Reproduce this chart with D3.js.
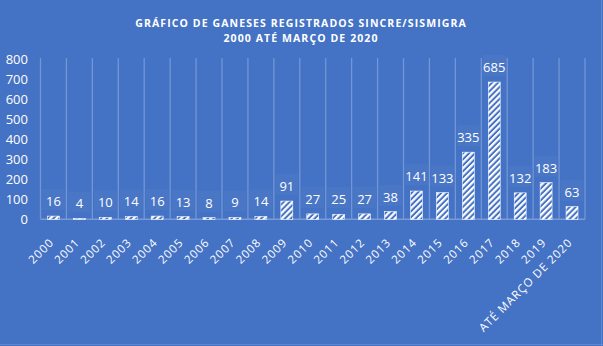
<!DOCTYPE html>
<html><head><meta charset="utf-8">
<script src="https://cdn.jsdelivr.net/npm/d3@7"></script>
<style>
html,body{margin:0;padding:0;background:#4472C4;}
svg{display:block;}
text{font-family:"Open Sans","Noto Sans",sans-serif;fill:#fff;}
</style></head>
<body>
<script>
const categories = ["2000","2001","2002","2003","2004","2005","2006","2007","2008","2009","2010","2011","2012","2013","2014","2015","2016","2017","2018","2019","ATÉ MARÇO DE 2020"];
const values = [16,4,10,14,16,13,8,9,14,91,27,25,27,38,141,133,335,685,132,183,63];
const yTicks = [0,100,200,300,400,500,600,700,800];
const titleLines = ["GRÁFICO DE GANESES REGISTRADOS SINCRE/SISMIGRA","2000 ATÉ MARÇO DE 2020"];

const W=603,H=346;
const svg=d3.select("body").append("svg").attr("width",W).attr("height",H);
svg.append("rect").attr("width",W).attr("height",H).attr("fill","#4472C4");
svg.append("line").attr("x1",601.5).attr("x2",601.5).attr("y1",0).attr("y2",H).attr("stroke","#5f86cc").attr("stroke-width",1);
svg.append("line").attr("x1",0).attr("x2",W).attr("y1",344.5).attr("y2",344.5).attr("stroke","#5f86cc").attr("stroke-width",1);

const defs=svg.append("defs");
const pat=defs.append("pattern").attr("id","hatch").attr("patternUnits","userSpaceOnUse")
  .attr("width",4.2).attr("height",4.2).attr("patternTransform","rotate(45)");
pat.append("rect").attr("width",4.2).attr("height",4.2).attr("fill","#4472C4");
pat.append("rect").attr("width",2.2).attr("height",4.2).attr("fill","#ffffff");

const x=d3.scaleBand().domain(categories).range([40.5,585]).paddingInner(0).paddingOuter(0);
const y=d3.scaleLinear().domain([0,800]).range([219.3,59]);

const bounds=categories.map(c=>x(c)).concat([x.range()[1]]);
svg.append("g").selectAll("line").data(bounds).join("line")
  .attr("x1",d=>d).attr("x2",d=>d).attr("y1",y(800)-1).attr("y2",y(0))
  .attr("stroke","#7296d6").attr("stroke-width",1.3);

const yAxis=d3.axisLeft(y).tickValues(yTicks).tickSize(0).tickPadding(0);
const ya=svg.append("g").attr("transform","translate(28,0)").call(yAxis);
ya.select(".domain").remove();
ya.selectAll("text").style("font-size","13px").attr("fill","#fff").attr("dy","0.36em");

svg.append("line").attr("x1",x.range()[0]).attr("x2",x.range()[1]).attr("y1",y(0)).attr("y2",y(0))
  .attr("stroke","#7a9bd8").attr("stroke-width",1.5);

const bw=x.bandwidth()*0.46;
svg.append("g").selectAll("rect").data(values).join("rect")
  .attr("x",(d,i)=>x(categories[i])+1.5).attr("width",x.bandwidth()-3)
  .attr("y",d=>y(d)-27).attr("height",21)
  .attr("fill","#ffffff").attr("fill-opacity",0.035);

svg.append("g").selectAll("rect").data(values).join("rect")
  .attr("x",(d,i)=>x(categories[i])+x.bandwidth()/2-bw/2).attr("width",bw)
  .attr("y",d=>y(d)).attr("height",d=>y(0)-y(d))
  .attr("fill","url(#hatch)").attr("stroke","#ffffff").attr("stroke-width",0.6);

svg.append("g").selectAll("text").data(values).join("text")
  .attr("x",(d,i)=>x(categories[i])+x.bandwidth()/2).attr("y",d=>y(d)-10)
  .attr("text-anchor","middle").style("font-size","13px").text(d=>d);

const xAxis=d3.axisBottom(x).tickSize(0).tickPadding(0);
const xa=svg.append("g").attr("transform",`translate(0,${y(0)})`).call(xAxis);
xa.select(".domain").remove();
xa.selectAll("text")
  .attr("text-anchor","end").attr("y",0).attr("dy",0)
  .attr("transform","translate(1,24) rotate(-45)")
  .style("font-size","11.5px").style("letter-spacing","0.9px").attr("fill","#fff");

svg.append("g").selectAll("text").data(titleLines).join("text")
  .attr("x",301).attr("y",(d,i)=>26.5+i*15).attr("text-anchor","middle")
  .style("font-size","10.5px").style("font-weight","bold").style("letter-spacing","1.1px")
  .text(d=>d);
</script>
</body></html>
